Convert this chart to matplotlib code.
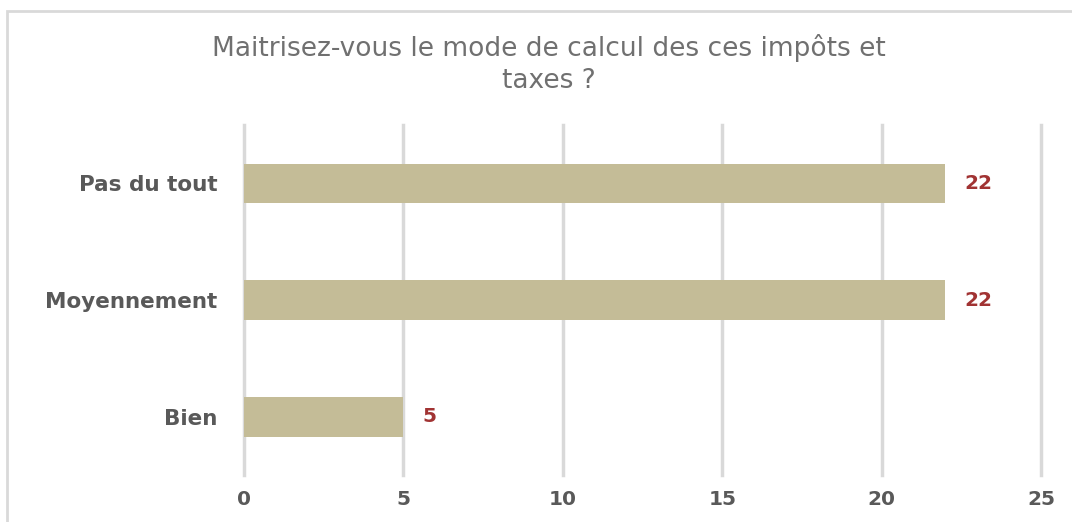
import matplotlib
matplotlib.use("Agg")
import matplotlib.pyplot as plt
from matplotlib.patches import Rectangle

# Survey answers, listed bottom to top
categories = ["Bien", "Moyennement", "Pas du tout"]
counts = [5, 22, 22]
x_ticks = [0, 5, 10, 15, 20, 25]

BAR_COLOR = "#c4bc97"
LABEL_COLOR = "#595959"
VALUE_COLOR = "#a13333"
GRID_COLOR = "#d9d9d9"

plt.rcParams["font.family"] = ["DejaVu Sans"]

fig = plt.figure(figsize=(10.72, 5.22), dpi=100)
fig.patch.set_facecolor("white")

# light frame around the chart area
fig.add_artist(Rectangle((7 / 1072, -0.1), 1.2, (511 / 522) + 0.1,
                         transform=fig.transFigure, fill=False,
                         edgecolor=GRID_COLOR, linewidth=2))

ax = fig.add_axes([244 / 1072, 47 / 522, 797 / 1072, 350 / 522])
ax.barh(range(len(categories)), counts, height=0.34, color=BAR_COLOR, zorder=2)

ax.set_xlim(0, 25)
ax.set_ylim(-0.5, len(categories) - 0.5)
ax.set_xticks(x_ticks)
ax.set_yticks(range(len(categories)))
ax.set_yticklabels(categories)
ax.grid(axis="x", color=GRID_COLOR, linewidth=2.5, zorder=0)
ax.grid(axis="y", visible=False)
for line in ax.get_xgridlines():
    line.set_clip_on(False)
for side in ["top", "right", "bottom", "left"]:
    ax.spines[side].set_visible(False)
ax.tick_params(axis="x", length=0, colors=LABEL_COLOR, labelsize=14.5, pad=11)
ax.tick_params(axis="y", length=0, colors=LABEL_COLOR, labelsize=15.5, pad=19)
for lbl in ax.get_xticklabels() + ax.get_yticklabels():
    lbl.set_fontweight("bold")

for i, v in enumerate(counts):
    ax.annotate(str(v), xy=(v, i), xytext=(14, 0), textcoords="offset points",
                va="center", ha="left", color=VALUE_COLOR,
                fontsize=14.5, fontweight="bold")

fig.text(549 / 1072, 1 - 64 / 522,
         "Maitrisez-vous le mode de calcul des ces impôts et\ntaxes ?",
         ha="center", va="center", fontsize=19, color="#707070",
         linespacing=1.3)

fig.savefig("out.png", dpi=100, facecolor="white")
